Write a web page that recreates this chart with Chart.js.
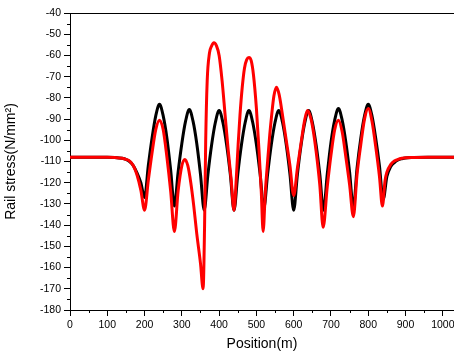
<!DOCTYPE html>
<html lang="en">
<head>
    <meta charset="UTF-8">
    <title>Rail stress</title>
    <script src="https://cdn.jsdelivr.net/npm/chart.js"></script>
    <style>
        html, body { margin: 0; padding: 0; background: #fff; }
        #wrap { width: 454px; height: 354px; }
    </style>
</head>
<body>
<div id="wrap"><canvas id="stressChart" width="454" height="354"></canvas></div>

<script>
    // black curve
    const blackPos = [0, 50, 100, 120, 140, 150, 160, 170, 180, 190, 200,
        210, 220, 230, 240, 250, 260, 270, 280,
        290, 300, 310, 320, 330, 340, 350, 360,
        370, 380, 390, 400, 410, 420, 430, 440,
        450, 460, 470, 480, 490, 500, 510, 520,
        530, 540, 550, 560, 570, 580, 590, 600,
        610, 620, 630, 640, 650, 660, 670, 680,
        690, 700, 710, 720, 730, 740, 750, 760,
        770, 780, 790, 800, 810, 820, 830, 840,
        850, 860, 870, 880, 890, 900, 920, 960, 1030];
    const blackStress = [-108, -108, -108, -108.1, -108.5, -109, -110, -112, -115.5, -120, -127,
        -112, -99, -88.5, -83, -88.5, -99, -114, -131,
        -115, -101.5, -91, -85.5, -91, -101.5, -116, -133,
        -116, -102, -91.5, -86, -91.5, -102, -116, -133,
        -116, -102, -91.5, -86, -91.5, -102, -116, -132,
        -116, -102, -91.5, -86, -91.5, -102, -116, -133,
        -116, -102, -91.5, -86, -91.5, -102, -116, -133,
        -116, -101, -90.5, -85, -90.5, -101, -115, -132,
        -113, -99, -88.5, -83, -88.5, -99, -112, -128,
        -117, -112.5, -110.5, -109.3, -108.7, -108.3, -108.1, -108, -108];

    // red curve
    const redPos = [0, 50, 100, 120, 140, 150, 160, 170, 180, 190, 200,
        210, 220, 230, 240, 250, 260, 270, 280,
        290, 300, 308, 316, 324, 332, 340, 350, 357,
        361, 364, 368, 374, 380, 386, 393, 400, 408, 416, 424, 432, 440,
        446, 451, 456, 462, 468, 474, 480, 486, 492, 500, 508, 513, 518,
        524, 530, 536, 541, 547, 554, 561, 569, 580, 590, 600,
        610, 620, 630, 637, 645, 652, 660, 670, 679,
        690, 700, 710, 720, 730, 740, 750, 760,
        770, 780, 790, 800, 810, 820, 830, 838,
        845, 850, 860, 870, 880, 890, 900, 920, 960, 1030];
    const redStress = [-108, -108, -108, -108.1, -108.5, -109, -109.8, -112, -116.5, -123.5, -133,
        -119, -106, -95, -90.5, -95, -108, -124, -143,
        -124, -112, -109, -112, -120, -131, -144, -158, -170,
        -140, -100, -72, -59, -55.5, -54, -55.5, -60, -72, -88, -104, -118, -133,
        -118, -102, -88, -75, -66, -62, -61, -62.5, -69, -85, -108, -124, -143,
        -124, -110, -97, -88, -79, -75, -78.5, -87, -100, -112, -126,
        -113, -101, -90, -86, -89, -95, -105, -121, -141,
        -122, -107, -95, -90.5, -96, -108, -121, -136,
        -116, -102, -90, -85, -91, -103, -117, -131,
        -119, -115, -111.5, -109.8, -109, -108.5, -108.2, -108.1, -108, -108];

    const xTicks = [0, 100, 200, 300, 400, 500, 600, 700, 800, 900, 1000];
    const yTicks = [-180, -170, -160, -150, -140, -130, -120, -110, -100, -90, -80, -70, -60, -50, -40];
    const xMin = 0, xMax = 1030;
    const yMin = -180, yMax = -40;

    const toPoints = (xs, ys) => xs.map((x, i) => ({ x: x, y: ys[i] }));
    const setTicks = list => scale => { scale.ticks = list.map(v => ({ value: v })); };

    // minor tick marks halfway between major ticks, and the top frame line
    const frame = {
        id: 'frame',
        afterDraw(chart) {
            const ctx = chart.ctx;
            const xs = chart.scales.x, ys = chart.scales.y;
            const area = chart.chartArea;
            ctx.save();
            ctx.strokeStyle = '#000';
            ctx.lineWidth = 1;
            ctx.beginPath();
            ctx.moveTo(area.left, area.top + 0.5);
            ctx.lineTo(area.right, area.top + 0.5);
            for (let i = 0; i < xTicks.length; i++) {
                const v = xTicks[i] + 50;
                if (v >= xMax) continue;
                const px = Math.round(xs.getPixelForValue(v)) + 0.5;
                ctx.moveTo(px, area.bottom);
                ctx.lineTo(px, area.bottom + 3);
            }
            for (let i = 0; i < yTicks.length - 1; i++) {
                const py = Math.round(ys.getPixelForValue(yTicks[i] + 5)) + 0.5;
                ctx.moveTo(area.left - 3, py);
                ctx.lineTo(area.left, py);
            }
            ctx.stroke();
            ctx.restore();
        }
    };

    const tickFont = { family: 'Liberation Sans', size: 10.5 };
    const titleFont = { family: 'Liberation Sans', size: 14 };

    new Chart(document.getElementById('stressChart').getContext('2d'), {
        type: 'line',
        data: {
            datasets: [{
                label: 'black',
                data: toPoints(blackPos, blackStress),
                borderColor: '#000000',
                borderWidth: 3,
                pointRadius: 0,
                cubicInterpolationMode: 'monotone',
                order: 2
            }, {
                label: 'red',
                data: toPoints(redPos, redStress),
                borderColor: '#ff0000',
                borderWidth: 3,
                pointRadius: 0,
                cubicInterpolationMode: 'monotone',
                order: 1
            }]
        },
        options: {
            responsive: false,
            animation: false,
            layout: { padding: { top: 13, right: 0, bottom: 0, left: 0 } },
            plugins: { legend: { display: false }, tooltip: { enabled: false } },
            scales: {
                x: {
                    type: 'linear',
                    min: xMin,
                    max: xMax,
                    afterBuildTicks: setTicks(xTicks),
                    afterFit(scale) {
                        scale.height = 44;
                        scale.paddingLeft = 0;
                        scale.paddingRight = 0;
                    },
                    ticks: { color: '#000', font: tickFont, padding: 3, maxRotation: 0,
                        autoSkip: false, callback: v => String(v) },
                    grid: { drawOnChartArea: false, tickLength: 6, tickColor: '#000' },
                    border: { color: '#000', width: 1 },
                    title: { display: true, text: 'Position(m)', color: '#000', font: titleFont, padding: { top: 0, bottom: 1 } }
                },
                y: {
                    min: yMin,
                    max: yMax,
                    afterBuildTicks: setTicks(yTicks),
                    afterFit(scale) { scale.width = 70; },
                    ticks: { color: '#000', font: tickFont, padding: 3,
                        autoSkip: false, callback: v => String(v) },
                    grid: { drawOnChartArea: false, tickLength: 6, tickColor: '#000' },
                    border: { color: '#000', width: 1 },
                    title: { display: true, text: 'Rail stress(N/mm²)', color: '#000', font: titleFont, padding: { top: 3, bottom: 0 } }
                }
            }
        },
        plugins: [frame]
    });
</script>
</body>
</html>
